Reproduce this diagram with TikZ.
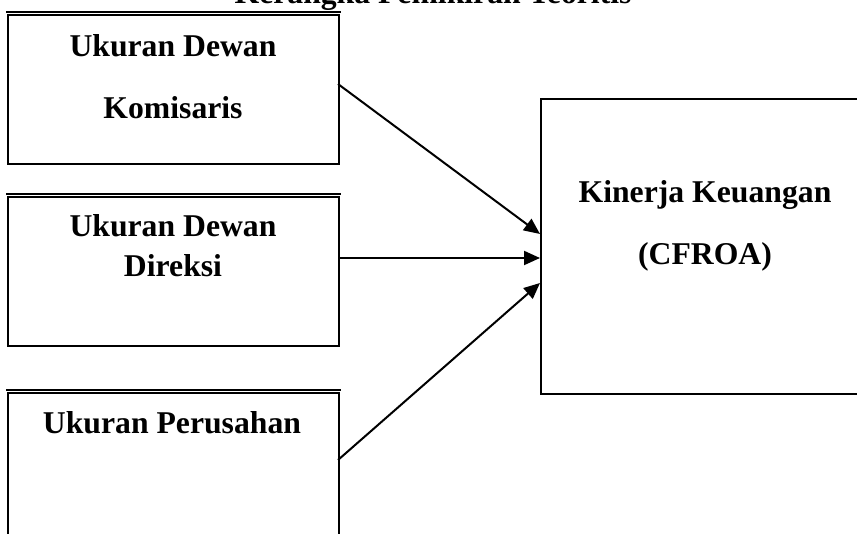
\documentclass[tikz,border=0pt]{standalone}
\usepackage{fontspec}
\setmainfont{Liberation Serif}
\usetikzlibrary{arrows.meta,calc}
\tikzset{
  box/.style={draw, line width=1.8pt, rectangle, inner sep=0pt},
  lbl/.style={font=\fontsize{31.7}{38}\selectfont\bfseries, anchor=base, inner sep=0pt},
  conn/.style={line width=2pt, -{Triangle[length=16pt,width=14pt]}},
  topline/.style={line width=1.2pt}
}
\begin{document}
\begin{tikzpicture}[x=1pt,y=-1pt]
\useasboundingbox (0,0) rectangle (857,534);
\clip (0,0) rectangle (857,534);
% title
\node[lbl] (title) at (433,4) {Kerangka Pemikiran Teoritis};
% boxes
\node[box, minimum width=331pt, minimum height=149pt, anchor=north west] (b1) at (7,14) {};
\node[box, minimum width=331pt, minimum height=149pt, anchor=north west] (b2) at (7,196) {};
\node[box, minimum width=331pt, minimum height=200pt, anchor=north west] (b3) at (7,392) {};
\node[box, minimum width=400pt, minimum height=295pt, anchor=north west] (r) at (540,98) {};
% double top lines
\draw[topline] ($(b1.north west)+(-0.9,-2)$) -- ($(b1.north east)+(0.9,-2)$);
\draw[topline] ($(b2.north west)+(-0.9,-2)$) -- ($(b2.north east)+(0.9,-2)$);
\draw[topline] ($(b3.north west)+(-0.9,-2)$) -- ($(b3.north east)+(0.9,-2)$);
% texts
\node[lbl] (t1a) at (173,57) {Ukuran Dewan};
\node[lbl] (t1b) at (173,119) {Komisaris};
\node[lbl] (t2a) at (173,237) {Ukuran Dewan};
\node[lbl] (t2b) at (173,277) {Direksi};
\node[lbl] (t3a) at (172,434) {Ukuran Perusahan};
\node[lbl] (tra) at (705,203) {Kinerja Keuangan};
\node[lbl] (trb) at (705,265) {(CFROA)};
% connector endpoints
\coordinate (s1) at (338,84);
\coordinate (e1) at (540,234);
\coordinate (s2) at (338,258);
\coordinate (e2) at (540,258);
\coordinate (s3) at (338,460);
\coordinate (e3) at (540,283);
\draw[conn] (s1) -- (e1);
\draw[conn] (s2) -- (e2);
\draw[conn] (s3) -- (e3);
\end{tikzpicture}
\end{document}
